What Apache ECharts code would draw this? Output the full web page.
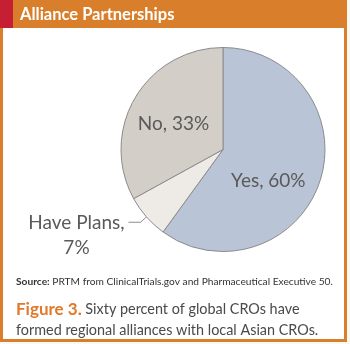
<!DOCTYPE html>
<html><head><meta charset="utf-8">
<script src="https://cdn.jsdelivr.net/npm/echarts@6/dist/echarts.min.js"></script>
<style>html,body{margin:0;padding:0;background:#fbf8f2}#c{width:350px;height:344px}</style>
</head><body><div id="c"></div>
<script>
const titleText = 'Alliance Partnerships';
const categories = ['Yes', 'Have Plans', 'No'];
const values = [60, 7, 33];
const sliceColors = ['#b9c4d6', '#eeeae6', '#d3cec7'];
const sourceText = 'PRTM from ClinicalTrials.gov and Pharmaceutical Executive 50.';
const figureLabel = 'Figure 3.';
const figureLines = ['Sixty percent of global CROs have', 'formed regional alliances with local Asian CROs.'];

const FONT = 'Lato, sans-serif';
const chart = echarts.init(document.getElementById('c'), null, {renderer: 'canvas'});
chart.setOption({
  animation: false,
  backgroundColor: '#fbf8f2',
  graphic: [
    {type: 'rect', z: -10, shape: {x: 0, y: 0, width: 347, height: 342}, style: {fill: '#d97f2b'}},
    {type: 'rect', z: -9, shape: {x: 0, y: 0, width: 13, height: 28}, style: {fill: '#c61f33'}},
    {type: 'rect', z: -9, shape: {x: 3, y: 28, width: 341, height: 311}, style: {fill: '#ffffff'}},
    {type: 'text', z: 10, x: 20, y: 14.5, style: {text: titleText, fill: '#ffffff', font: 'bold 16.5px ' + FONT, verticalAlign: 'middle'}},
    {type: 'text', z: 10, x: 16, y: 282, style: {
      text: '{b|Source:} ' + sourceText, verticalAlign: 'middle',
      fill: '#333333', fontFamily: FONT, fontSize: 10.2,
      rich: {b: {fontWeight: 'bold', fontFamily: FONT, fontSize: 10.2, fill: '#333333'}}
    }},
    {type: 'text', z: 10, x: 16, y: 299, style: {
      text: '{f|' + figureLabel + '} ' + figureLines[0] + '\n' + figureLines[1],
      verticalAlign: 'top', fill: '#4a4a4a', fontFamily: FONT, fontSize: 14.4, lineHeight: 21,
      rich: {f: {fontWeight: 'bold', fontFamily: FONT, fontSize: 17, lineHeight: 21, fill: '#e07a2a'}}
    }}
  ],
  series: [{
    type: 'pie',
    center: [223, 149.5],
    radius: 102,
    startAngle: 90,
    clockwise: true,
    itemStyle: {borderColor: '#8c8c8c', borderWidth: 1},
    emphasis: {disabled: true},
    label: {fontFamily: FONT, fontSize: 19, color: '#5a5a5a'},
    data: categories.map((c, i) => {
      const d = {name: c, value: values[i], itemStyle: {color: sliceColors[i]}};
      if (c === 'Have Plans') {
        d.label = {position: 'outside', formatter: '{a|{b},}\n{a|{d}%}', padding: [26, 0, 0, 0],
          rich: {a: {fontFamily: FONT, fontSize: 19, color: '#5a5a5a', width: 94, align: 'center', lineHeight: 25}}};
        d.labelLine = {show: true, length: 8, length2: 12, lineStyle: {color: '#8c8c8c', width: 1}};
      } else if (c === 'Yes') {
        d.label = {position: 'inside', formatter: '{b}, {d}%', offset: [-6, 15]};
        d.labelLine = {show: false};
      } else {
        d.label = {position: 'inside', formatter: '{b}, {d}%', offset: [-3, 2]};
        d.labelLine = {show: false};
      }
      return d;
    })
  }]
});
</script></body></html>
